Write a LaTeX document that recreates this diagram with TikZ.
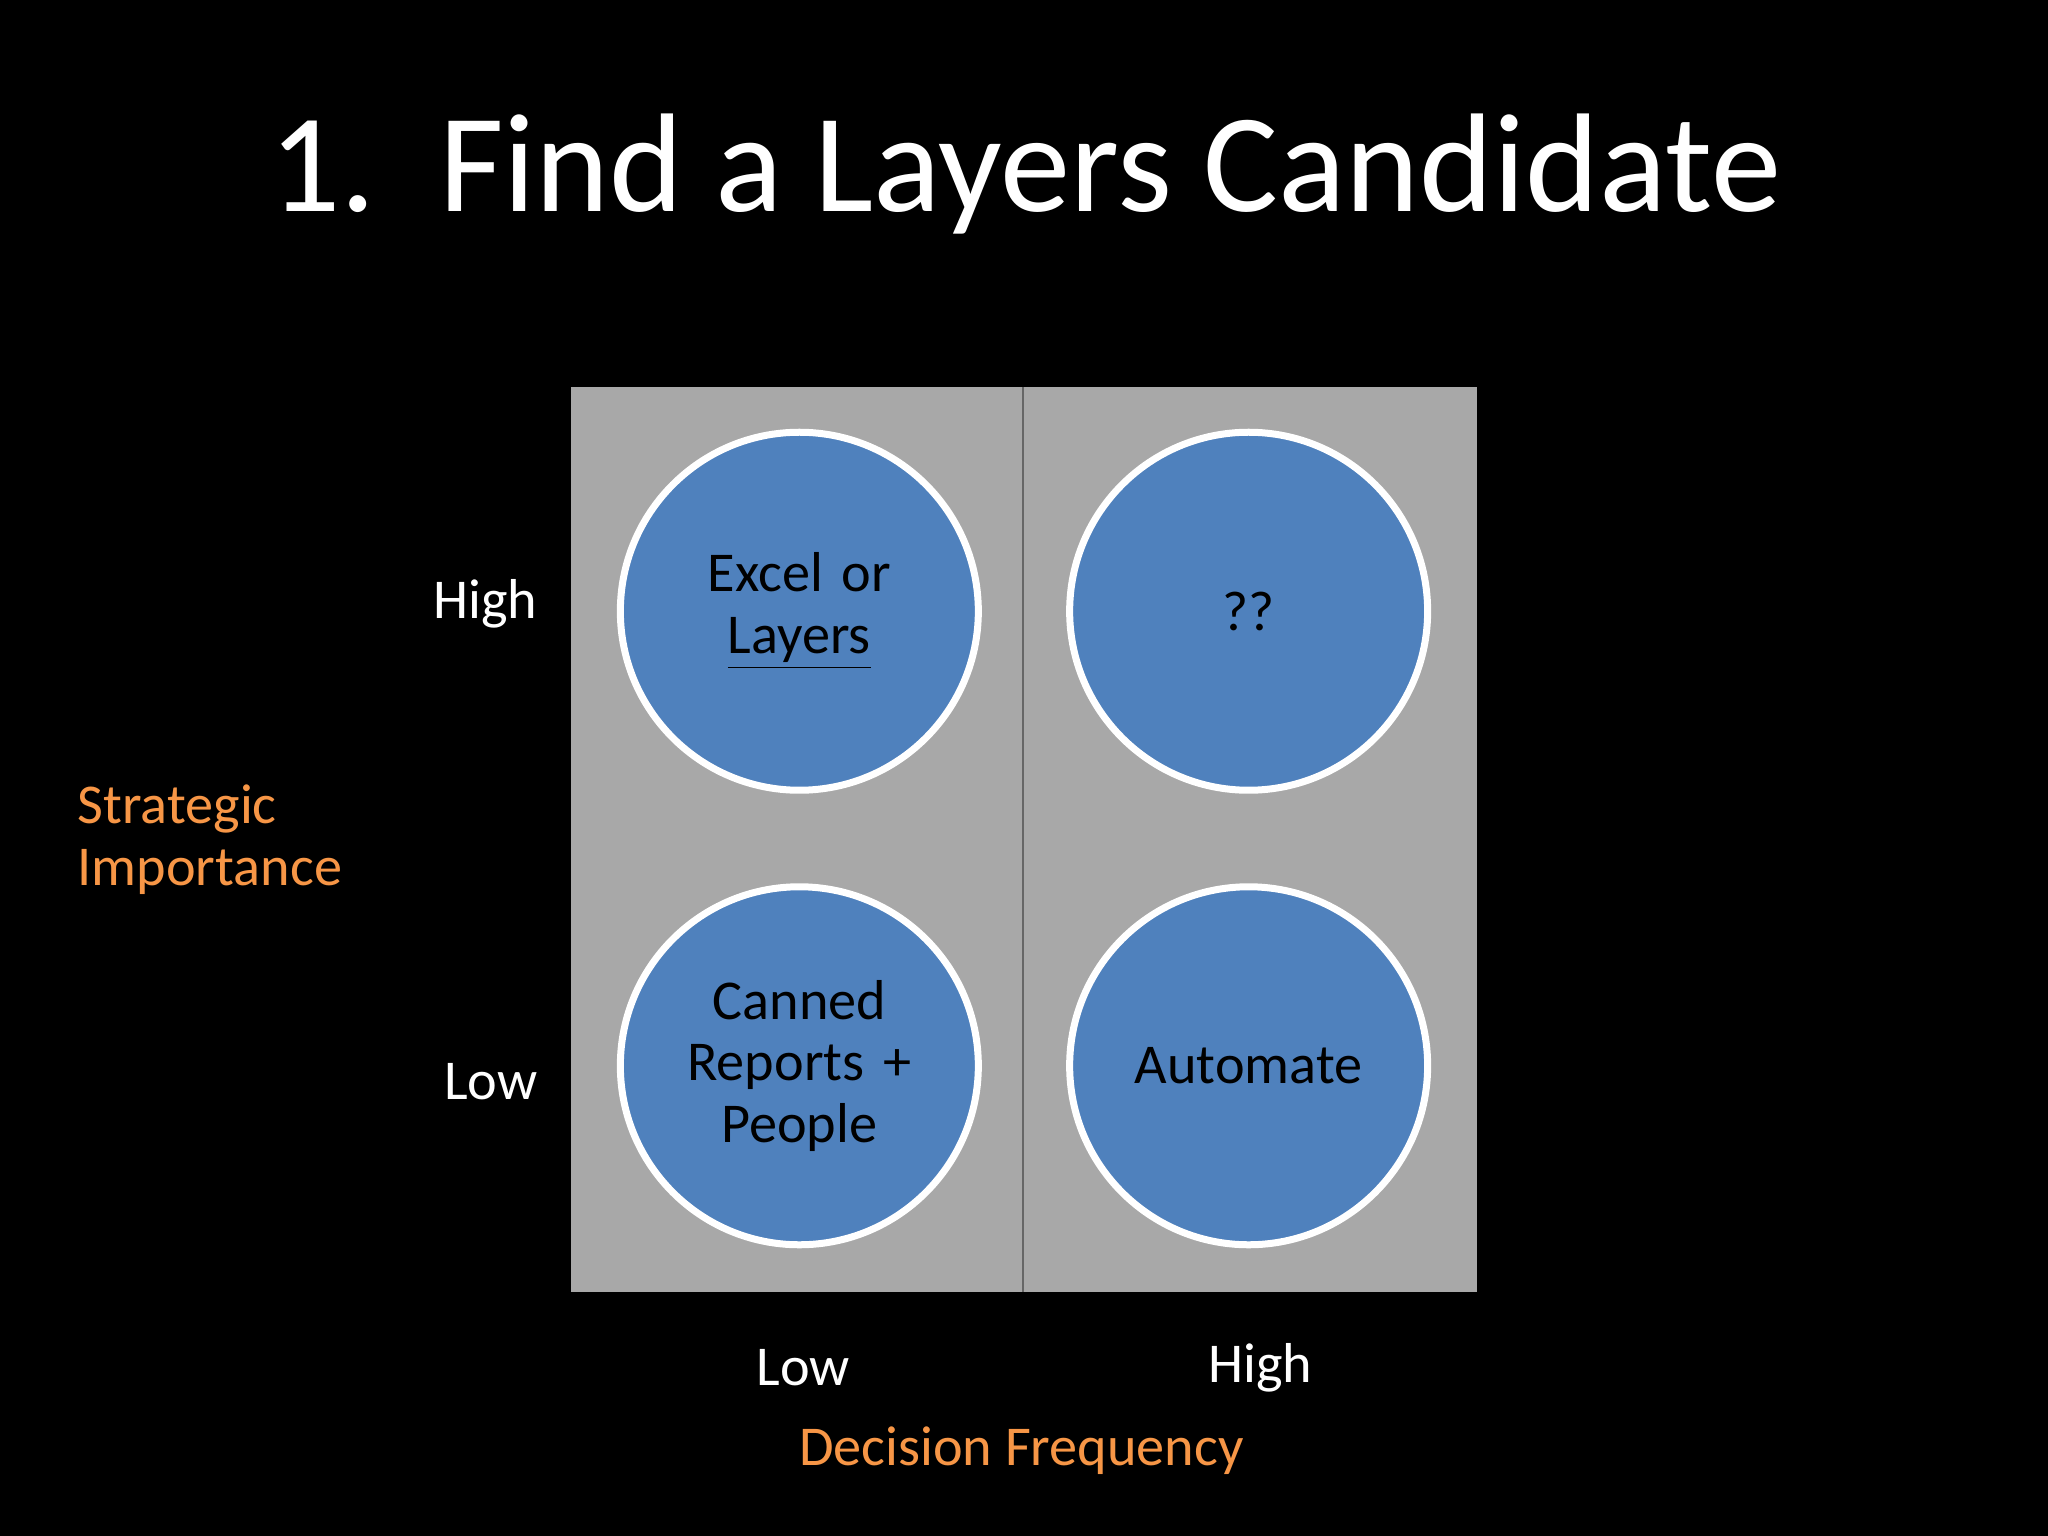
\documentclass[tikz,border=0pt]{standalone}
\usepackage{fontspec}
\setmainfont{Carlito}
\usepackage{tikz}
\definecolor{cblue}{HTML}{4F81BD}
\definecolor{corange}{HTML}{F79646}
\definecolor{cgray}{HTML}{A8A8A8}
\tikzset{
  quad/.style={circle,fill=cblue,draw=white,line width=0.07cm,minimum size=3.58cm,inner sep=0pt,align=center,text width=3cm,font=\fontsize{16}{17.5}\selectfont},
  axis/.style={text=white,font=\fontsize{16}{19}\selectfont},
  axisname/.style={text=corange,font=\fontsize{16}{17.5}\selectfont,align=left}
}
\begin{document}
\begin{tikzpicture}[x=0.013061cm,y=0.013061cm]
\fill[black] (0,0) rectangle (1568,1176);
\useasboundingbox (0,0) rectangle (1568,1176);
\node[text=white,font=\fontsize{40}{44}\selectfont] (title) at (785,1043) {1.\ \ Find a Layers Candidate};
\fill[cgray] (437,187) rectangle (1131,880);
\draw[gray!80!black,line width=0.02cm] (783,187) -- (783,880);
\node[quad] (hl) at (612,708) {Excel or\\\underline{Layers}};
\node[quad] (hh) at (956,708) {??};
\node[quad] (ll) at (612,360) {Canned\\Reports +\\People};
\node[quad] (lh) at (956,360) {Automate};
\node[axis,anchor=east] (yhigh) at (421,714) {High};
\node[axis,anchor=east] (ylow) at (421,348) {Low};
\node[axisname,anchor=west] (yname) at (50,533) {Strategic\\Importance};
\node[axis] (xlow) at (615,129) {Low};
\node[axis] (xhigh) at (965,129) {High};
\node[axisname] (xname) at (782,65) {Decision Frequency};
\end{tikzpicture}
\end{document}
